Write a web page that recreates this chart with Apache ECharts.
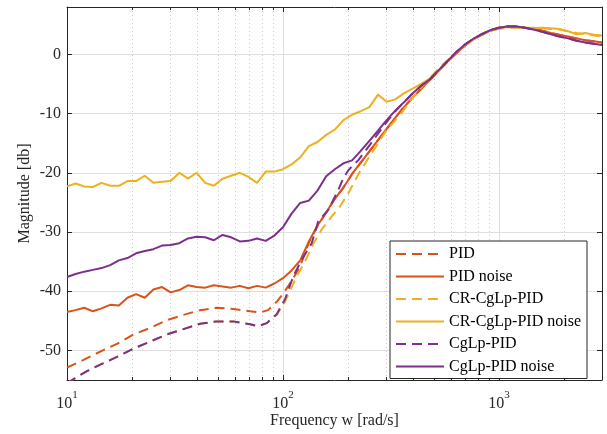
<!DOCTYPE html>
<html><head><meta charset="utf-8">
<script src="https://cdn.jsdelivr.net/npm/echarts@6/dist/echarts.min.js"></script>
<style>html,body{margin:0;padding:0;background:#fff}#c{width:607px;height:434px}</style>
</head><body><div id="c"></div><script>
// ---- data ----
const freqNoise = [10, 10.96, 12.02, 13.18, 14.45, 15.85, 17.38, 19.05, 20.89, 22.91, 25.12, 27.54, 30.2, 33.11, 36.31, 39.81, 43.65, 47.86, 52.48, 57.54, 63.1, 69.18, 75.86, 83.18, 91.2, 100, 109.6, 120.2, 131.8, 144.5, 158.5, 173.8, 190.5, 208.9, 229.1, 251.2, 275.4, 302, 331.1, 363.1, 398.1, 436.5, 478.6, 524.8, 575.4, 631, 691.8, 758.6, 831.8, 912, 1000, 1096, 1202, 1318, 1445, 1585, 1738, 1905, 2089, 2291, 2512, 2754, 3000];
const pidNoise = [-43.5, -43.2, -42.8, -43.4, -42.9, -42.3, -42.4, -41.1, -40.5, -41.1,
  -39.7, -39.3, -40.2, -39.8, -39.0, -39.3, -39.4, -39.0, -39.2, -39.4,
  -39.1, -39.5, -39.1, -39.4, -38.7, -37.8, -36.5, -34.8, -31.6, -28.9,
  -26.7, -24.4, -22.5, -20.2, -18.3, -16.4, -14.5, -12.6, -10.7, -8.9,
  -7.3, -5.8, -4.3, -2.8, -1.3, 0.1, 1.4, 2.5, 3.3, 4.0,
  4.5, 4.7, 4.7, 4.5, 4.3, 4.0, 3.6, 3.3, 3.0, 2.7,
  2.4, 2.2, 2.0];
const crNoise = [-22.3, -21.8, -22.3, -22.4, -21.7, -22.2, -22.2, -21.4, -21.4, -20.5,
  -21.7, -21.5, -21.4, -20.0, -21.0, -20.0, -21.7, -22.2, -21.0, -20.5,
  -20.0, -20.7, -21.7, -19.8, -19.8, -19.4, -18.6, -17.4, -15.5, -14.8,
  -13.6, -12.7, -11.1, -10.2, -9.6, -8.9, -6.8, -8.0, -7.6, -6.6,
  -5.8, -5.0, -4.1, -2.8, -1.2, 0.3, 1.5, 2.5, 3.3, 4.0,
  4.4, 4.6, 4.6, 4.5, 4.4, 4.5, 4.4, 4.3, 3.9, 3.4,
  3.6, 3.3, 3.2];
const cglpNoise = [-37.6, -37.1, -36.7, -36.4, -36.1, -35.6, -34.8, -34.4, -33.6, -33.2,
  -32.9, -32.3, -32.2, -31.9, -31.1, -30.8, -30.9, -31.4, -30.5, -30.9,
  -31.6, -31.5, -31.1, -31.5, -30.6, -29.2, -26.9, -25.1, -24.7, -23.0,
  -20.6, -19.4, -18.4, -17.9, -16.3, -14.6, -12.9, -11.1, -9.5, -8.1,
  -6.6, -5.3, -4.2, -2.7, -1.2, 0.3, 1.6, 2.6, 3.4, 4.1,
  4.5, 4.7, 4.7, 4.5, 4.2, 3.8, 3.4, 3.0, 2.7, 2.3,
  2.0, 1.8, 1.6];

const freqPID = [10, 11.93, 14.26, 17.03, 20.32, 24.27, 29.0, 34.61, 41.33, 49.37, 58.91, 70.38, 78.29, 85.25, 93.52, 102.1, 111.6, 119.8, 131.8, 144.5, 158.5, 173.8, 190.5, 208.9, 229.1, 251.2, 275.4, 302, 331.1, 363.1, 398.1, 436.5, 478.6, 524.8, 575.4, 631, 691.8, 758.6, 831.8, 912, 1000, 1096, 1202, 1318, 1445, 1585, 1738, 1905, 2089, 2291, 2512, 2754, 3000];
const pid = [-52.9, -51.6, -50.2, -48.9, -47.3, -46.2, -44.9, -44.0, -43.2, -42.8, -43.0, -43.4, -43.6, -43.2, -41.8, -40.0, -37.8, -35.9,
  -31.8, -29.0, -26.7, -24.4, -22.5, -20.2, -18.3, -16.4, -14.5, -12.6, -10.7, -8.9, -7.3, -5.8, -4.3, -2.8, -1.3, 0.1, 1.4, 2.5, 3.3, 4.0, 4.5, 4.7, 4.7, 4.5, 4.3, 4.0, 3.6, 3.3, 3.0, 2.7, 2.4, 2.2, 2.0];

const freqCR = [10, 10.55, 12.37, 14.26, 17.03, 20.32, 24.27, 29.0, 34.61, 41.33, 49.37, 58.91, 70.38, 76.89, 84.06, 93.52, 102.1, 107.7, 115.7, 126.4, 138.1, 151.5, 168.0, 183.5, 200.4, 227.0, 261.6, 301.6, 347.5, 400.4, 461.6, 531.9, 602.5, 691.8, 758.6, 831.8, 912, 1000, 1096, 1202, 1318, 1445, 1585, 1738, 1905, 2089, 2291, 2512, 2754, 3000];
const cr = [-55.6, -55.0, -53.5, -52.4, -51.1, -49.7, -48.5, -47.3, -46.4, -45.5, -45.1, -45.1, -45.6, -45.9, -45.4,
  -44.0, -41.8, -40.0, -37.5, -35.0, -32.0, -29.5, -27.4, -25.7, -23.5, -19.8, -16.3, -12.8, -10.3, -7.2, -4.6, -2.2, -0.4,
  1.5, 2.5, 3.3, 3.9, 4.3, 4.5, 4.5, 4.5, 4.5, 4.4, 4.3, 4.2, 3.9, 3.6, 3.4, 3.2, 3.0];

const freqCgLp = [10, 10.55, 12.37, 14.26, 17.03, 20.32, 24.27, 29.0, 34.61, 41.33, 49.37, 58.91, 70.38, 76.89, 84.06, 93.52, 102.1, 111.6, 122.0, 135.8, 145.6, 162.0, 180.2, 190.0, 200.4, 222.9, 252.5, 290.9, 331.1, 363.1, 398.1, 436.5, 478.6, 524.8, 575.4, 631, 691.8, 758.6, 831.8, 912, 1000, 1096, 1202, 1318, 1445, 1585, 1738, 1905, 2089, 2291, 2512, 2754, 3000];
const cglp = [-55.6, -55.0, -53.5, -52.4, -51.1, -49.7, -48.5, -47.3, -46.4, -45.5, -45.1, -45.1, -45.6, -45.9, -45.4, -43.9, -41.4, -37.5, -34.7, -31.9,
  -28.2, -26.3, -22.9, -21.0, -19.6, -17.9, -15.3, -12.2,
  -9.6, -8.1, -6.6, -5.3, -4.2, -2.7, -1.2, 0.3, 1.6, 2.6, 3.4, 4.1, 4.5, 4.7, 4.7, 4.5, 4.2, 3.8, 3.4, 3.0, 2.7, 2.3, 2.0, 1.8, 1.6];

const seriesNames = ['PID', 'PID noise', 'CR-CgLp-PID', 'CR-CgLp-PID noise', 'CgLp-PID', 'CgLp-PID noise'];
const xMajorTicks = [10, 100, 1000];
const xMinorTicks = [20, 30, 40, 50, 60, 70, 80, 90, 200, 300, 400, 500, 600, 700, 800, 900, 2000];
const yTicks = [-50, -40, -30, -20, -10, 0];
// ---- chart ----
const FONT = "'Liberation Serif', 'Times New Roman', serif";
const AX = '#262626';
const C_PID = '#D95319', C_CR = '#EDB120', C_CG = '#7E2F8E';
const pairs = (xs, ys) => xs.map((x, i) => [x, ys[i]]);
const xBase = { type: 'log', logBase: 10, min: 10, max: 3000, gridIndex: 0, nameMoveOverlap: false };
const yBase = { type: 'value', min: -55, max: 8, gridIndex: 0, nameMoveOverlap: false };
const dash = [10, 6];
function mk(name, xs, ys, color, dashed) {
  return { name, type: 'line', data: pairs(xs, ys), symbol: 'none', showSymbol: false,
    xAxisIndex: 0, yAxisIndex: 0, clip: true,
    lineStyle: { color, width: 2, type: dashed ? dash : 'solid', cap: 'butt' },
    itemStyle: { color }, emphasis: { disabled: true } };
}
const chart = echarts.init(document.getElementById('c'), null, { renderer: 'canvas' });
chart.setOption({
  animation: false,
  backgroundColor: '#fff',
  grid: { left: 67, right: 5, top: 7, bottom: 54, containLabel: false, outerBoundsMode: 'none' },
  xAxis: [
    { ...xBase, position: 'bottom',
      axisLine: { show: true, onZero: false, lineStyle: { color: AX, width: 1 } },
      axisTick: { show: true, inside: true, length: 5, customValues: xMajorTicks, lineStyle: { color: AX } },
      axisLabel: { show: true, customValues: xMajorTicks, margin: 10, color: AX,
        formatter: v => '{b|10}{s|' + Math.round(Math.log10(v)) + '}',
        rich: { b: { fontFamily: FONT, fontSize: 16, color: AX, verticalAlign: 'bottom', lineHeight: 22 },
                s: { fontFamily: FONT, fontSize: 11, color: AX, verticalAlign: 'top', lineHeight: 12 } } },
      splitLine: { show: true, lineStyle: { color: '#dfdfdf', width: 1 } },
      minorTick: { show: false }, minorSplitLine: { show: false },
      name: 'Frequency w [rad/s]', nameLocation: 'middle', nameGap: 33,
      nameTextStyle: { fontFamily: FONT, fontSize: 16, color: AX } },
    { ...xBase, position: 'bottom',
      axisLine: { show: false, onZero: false },
      axisTick: { show: true, inside: true, length: 3, customValues: xMinorTicks, lineStyle: { color: AX } },
      axisLabel: { show: false },
      splitLine: { show: true, lineStyle: { color: '#c9c9c9', width: 1, type: [1, 3] } } },
    { ...xBase, position: 'top',
      axisLine: { show: true, onZero: false, lineStyle: { color: AX, width: 1 } },
      axisTick: { show: true, inside: true, length: 5, customValues: xMajorTicks, lineStyle: { color: AX } },
      axisLabel: { show: false }, splitLine: { show: false } },
    { ...xBase, position: 'top',
      axisLine: { show: false, onZero: false },
      axisTick: { show: true, inside: true, length: 3, customValues: xMinorTicks, lineStyle: { color: AX } },
      axisLabel: { show: false }, splitLine: { show: false } }
  ],
  yAxis: [
    { ...yBase, position: 'left',
      axisLine: { show: true, onZero: false, lineStyle: { color: AX, width: 1 } },
      axisTick: { show: true, inside: true, length: 5, customValues: yTicks, lineStyle: { color: AX } },
      axisLabel: { show: true, customValues: yTicks, margin: 6, color: AX, fontFamily: FONT, fontSize: 16 },
      splitLine: { show: true, lineStyle: { color: '#dfdfdf', width: 1 } },
      name: 'Magnitude [db]', nameLocation: 'middle', nameGap: 34, nameRotate: 90,
      nameTextStyle: { fontFamily: FONT, fontSize: 16, color: AX } },
    { ...yBase, position: 'right',
      axisLine: { show: true, onZero: false, lineStyle: { color: AX, width: 1 } },
      axisTick: { show: true, inside: true, length: 5, customValues: yTicks, lineStyle: { color: AX } },
      axisLabel: { show: false }, splitLine: { show: false } }
  ],
  legend: {
    show: true, orient: 'vertical', left: 390, top: 241,
    itemWidth: 48, itemHeight: 14, itemGap: 6.5,
    padding: [5, 6, 4, 5],
    backgroundColor: '#fff', borderColor: AX, borderWidth: 1, borderRadius: 0,
    itemStyle: { opacity: 0 },
    textStyle: { fontFamily: FONT, fontSize: 16, color: '#000' },
    data: seriesNames
  },
  series: [
    mk(seriesNames[0], freqPID, pid, C_PID, true),
    mk(seriesNames[1], freqNoise, pidNoise, C_PID, false),
    mk(seriesNames[2], freqCR, cr, C_CR, true),
    mk(seriesNames[3], freqNoise, crNoise, C_CR, false),
    mk(seriesNames[4], freqCgLp, cglp, C_CG, true),
    mk(seriesNames[5], freqNoise, cglpNoise, C_CG, false)
  ]
});
</script></body></html>
